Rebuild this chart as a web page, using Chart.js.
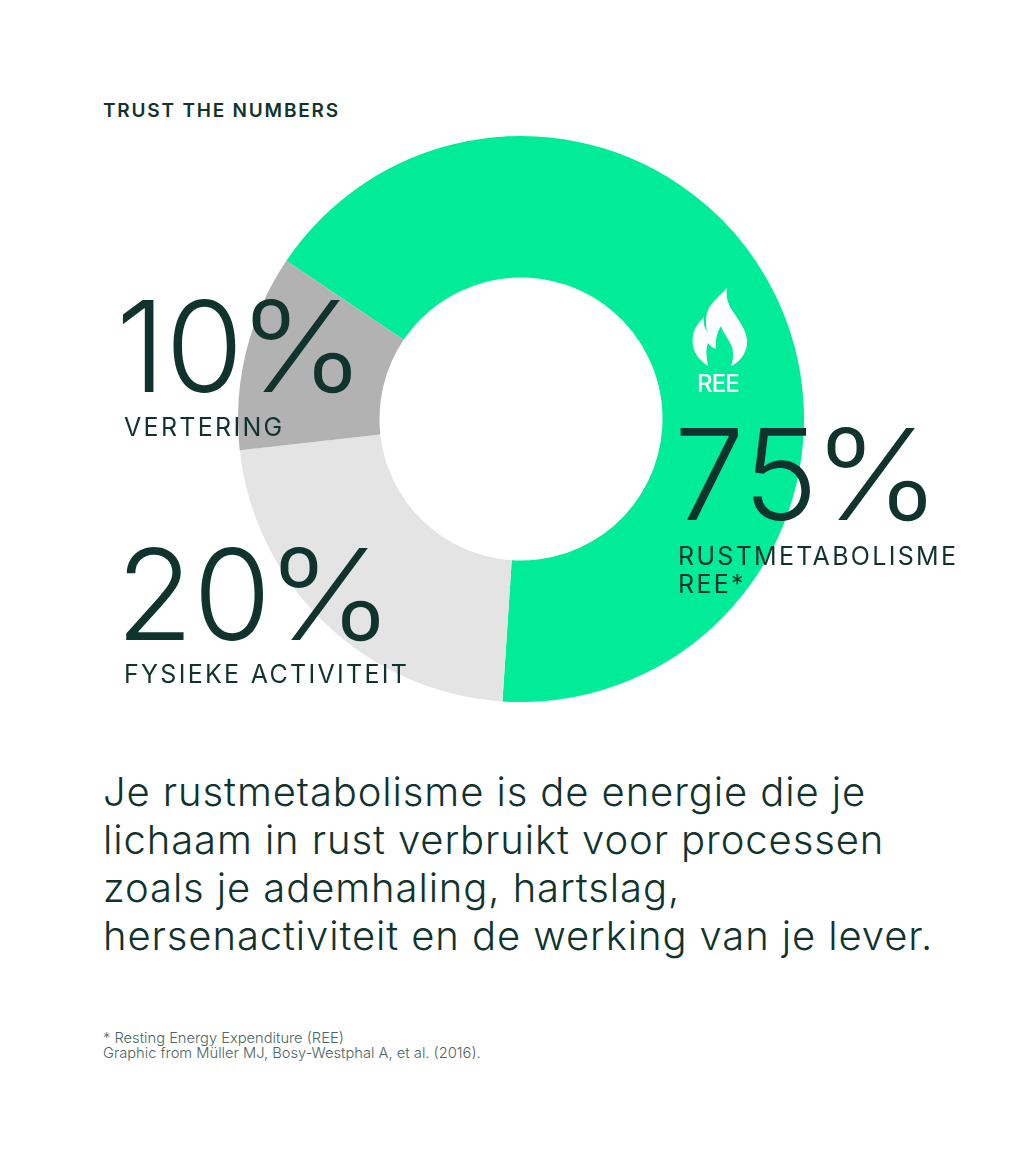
<!DOCTYPE html>
<html lang="nl">
<head>
<meta charset="utf-8">
<title>Trust the numbers</title>
<script src="https://cdn.jsdelivr.net/npm/chart.js@4/dist/chart.umd.min.js"></script>
<style>
  html, body { margin: 0; padding: 0; background: #fff; }
  body { position: relative; width: 1024px; height: 1165px; overflow: hidden; color: #10342d; font-family: Inter, "Open Sans", sans-serif; }
  #donut { position: absolute; left: 238px; top: 136px; }
  .txt { position: absolute; white-space: nowrap; line-height: 1; }
  .kicker { left: 103px; top: 101px; font-size: 19px; font-weight: 600; letter-spacing: 1.8px; }
  .pct { font-size: 126px; font-weight: 300; letter-spacing: 0px; }
  .sign { display: inline-block; margin-left: -5px; transform: scaleX(1.08); transform-origin: left center; }
  .name { font-size: 25px; font-weight: 400; letter-spacing: 2.3px; line-height: 28px; }
  #pct0 { left: 674px; top: 411px; }
  #name0 { left: 678px; top: 542px; }
  #pct1 { left: 116px; top: 531px; }
  #name1 { left: 124px; top: 660px; }
  #pct2 { left: 116px; top: 283px; }
  #name2 { left: 124px; top: 413px; }
  .body { left: 103px; top: 768px; font-size: 40px; font-weight: 300; line-height: 48px; letter-spacing: 0.9px; }
  .foot { left: 103px; top: 1031px; font-size: 14.7px; font-weight: 300; line-height: 15px; color: #4a6761; }
  #flame { position: absolute; left: 670px; top: 270px; }
  .ree { left: 697px; top: 372px; font-size: 24px; font-weight: 500; color: #fff; letter-spacing: -0.9px; }
</style>
</head>
<body>
<div class="txt kicker">TRUST THE NUMBERS</div>
<canvas id="donut" width="566" height="566"></canvas>
<svg id="flame" width="100" height="110" viewBox="670 270 100 110">
  <path fill="#fff" d="M727 288 C720 296 712 301 708 310 C705 318 706 326 707 332 C704 327 703 322 704 317 C699 322 694 328 693 336 C691 346 695 358 708 366 C707 358 705 350 708 343 C710 346 713 348 716 349 C715 341 717 332 721 326 C723 333 729 339 732 347 C734 354 733 361 731 366 C738 363 745 356 747 345 C748 334 742 325 736 316 C731 309 725 301 727 288 Z"/>
</svg>
<div class="txt ree">REE</div>
<div class="txt pct" id="pct0"></div>
<div class="txt name" id="name0"></div>
<div class="txt pct" id="pct1"></div>
<div class="txt name" id="name1"></div>
<div class="txt pct" id="pct2"></div>
<div class="txt name" id="name2"></div>
<div class="txt body">Je rustmetabolisme is de energie die je<br>lichaam in rust verbruikt voor processen<br>zoals je ademhaling, hartslag,<br>hersenactiviteit en de werking van je lever.</div>
<div class="txt foot">* Resting Energy Expenditure (REE)<br>Graphic from Müller MJ, Bosy-Westphal A, et al. (2016).</div>
<script>
const categories = ['RUSTMETABOLISME<br>REE*', 'FYSIEKE ACTIVITEIT', 'VERTERING'];
const percentLabels = ['75%', '20%', '10%'];
// slice sizes as drawn in the picture, they don't follow the printed percentages
const sliceValues = [66.6, 22.2, 11.2];
const sliceColors = ['#00ec99', '#e4e4e4', '#b2b2b2'];

categories.forEach((c, i) => {
  document.getElementById('name' + i).innerHTML = c;
  document.getElementById('pct' + i).innerHTML = percentLabels[i].replace('%', '<span class="sign">%</span>');
});

new Chart(document.getElementById('donut').getContext('2d'), {
  type: 'doughnut',
  data: {
    labels: categories,
    datasets: [{ data: sliceValues, backgroundColor: sliceColors, borderWidth: 0 }],
  },
  options: {
    responsive: false,
    animation: false,
    rotation: -56,
    cutout: '50%',
    layout: { padding: 0 },
    plugins: { legend: { display: false }, tooltip: { enabled: false } },
  },
});
</script>
</body>
</html>
